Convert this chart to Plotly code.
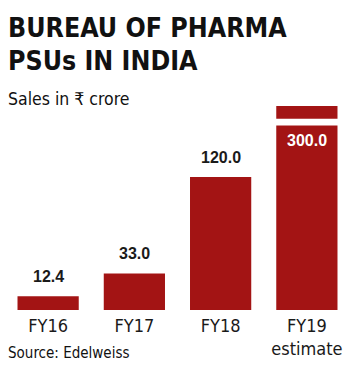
import plotly.graph_objects as go

categories = ["FY16", "FY17", "FY18", "FY19"]
tick_labels = ["FY16", "FY17", "FY18", "FY19<br>estimate"]
sales = [12.4, 33.0, 120.0, 300.0]
label_text = ["12.4", "33.0", "120.0", "300.0"]

BAR = "#a31414"
W, H = 350, 377
top_px, bot_px = 106, 310
y_max = 184.0
COND = "DejaVu Sans Condensed, Liberation Sans, sans-serif"
NUM = "Liberation Sans, Arial, sans-serif"

fig = go.Figure(go.Bar(
    x=categories, y=sales,
    marker=dict(color=BAR, line=dict(width=0)),
    hoverinfo="skip",
))

# break marker on the truncated FY19 bar
fig.add_shape(type="rect", xref="x", yref="y", x0=2.6, x1=3.4, y0=166.3, y1=172.4,
              fillcolor="white", line=dict(width=0), layer="above")

def py(p):
    return (bot_px - p) / (bot_px - top_px)

# value labels
for c, v, t in zip(categories, sales, label_text):
    if v <= y_max:
        fig.add_annotation(x=c, y=v, text=t, showarrow=False, yanchor="bottom",
                           yshift=9, font=dict(family=NUM, size=16, color="#1a1a1a", weight="bold"))
    else:
        fig.add_annotation(x=c, xref="x", yref="paper", y=py(140), text=t, showarrow=False,
                           yanchor="middle", font=dict(family=NUM, size=16, color="#ffffff", weight="bold"))

LX = 0.004
fig.add_annotation(text="<b>BUREAU OF PHARMA</b>", xref="paper", yref="paper",
                   x=LX, y=py(27.5), xanchor="left", yanchor="middle", showarrow=False,
                   font=dict(family=COND, size=26.5, color="#111111"))
fig.add_annotation(text="<b>PSUs IN INDIA</b>", xref="paper", yref="paper",
                   x=LX, y=py(61), xanchor="left", yanchor="middle", showarrow=False,
                   font=dict(family=COND, size=26.5, color="#111111"))
fig.add_annotation(text="Sales in ₹ crore", xref="paper", yref="paper",
                   x=LX, y=py(99), xanchor="left", yanchor="middle", showarrow=False,
                   font=dict(family=COND, size=17.5, color="#111111"))
fig.add_annotation(text="Source: Edelweiss", xref="paper", yref="paper",
                   x=LX, y=py(353), xanchor="left", yanchor="middle", showarrow=False,
                   font=dict(family=COND, size=15, color="#111111"))

fig.update_layout(
    width=W, height=H,
    margin=dict(l=5, r=0, t=top_px, b=H - bot_px, pad=0),
    paper_bgcolor="white", plot_bgcolor="white",
    bargap=0.29,
    showlegend=False,
    xaxis=dict(tickmode="array", tickvals=categories, ticktext=tick_labels,
               showgrid=False, zeroline=False, showline=False, ticks="",
               ticklabelstandoff=3,
               tickfont=dict(family=COND, size=18, color="#1a1a1a"),
               range=[-0.5, 3.5], fixedrange=True),
    yaxis=dict(range=[0, y_max], visible=False, fixedrange=True),
)

fig.write_html("out.html", config={"displayModeBar": False})
